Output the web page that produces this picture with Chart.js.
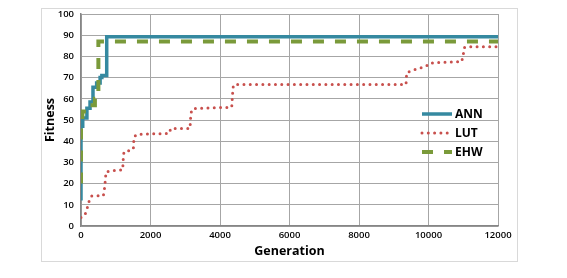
<!DOCTYPE html>
<html>
<head>
<meta charset="utf-8">
<script src="https://cdn.jsdelivr.net/npm/chart.js@4"></script>
<style>
body { margin: 0; background: #fff; }
</style>
</head>
<body>
<canvas id="chart" width="567" height="278"></canvas>
<script>
// series (generation, fitness)
var annGen = [0, 50, 170, 260, 345, 450, 550, 600, 740, 835, 12000];
var annFit = [12, 47, 51, 55.5, 58.5, 65.5, 67.5, 70, 71, 89.3, 89.3];

var ehwGen = [0, 40, 170, 400, 500, 720, 12000];
var ehwFit = [20, 47, 54, 57, 60, 87, 87];

var lutGen = [0,115,163,211,240,307,643,671,691,720,883,1027,1200,1218,1237,1362,1506,1525,1602,2542,2580,3137,3156,3185,3329,4337,4360,4385,4576,9353,9372,9516,9660,9804,9948,10025,10140,10955,11004,11022,11146,12000];
var lutFit = [4,5.2,7.9,9.9,12.3,14.2,14.3,17,20,25.6,26,26.4,26.4,32.4,35,35.5,36.3,42,43.2,43.7,46,46,51.6,55,55.5,56,62,66.5,66.8,66.8,72.3,73.3,74,74.7,75.6,76.7,77,77.5,81.1,84.1,84.6,84.6];

var seriesNames = ["ANN", "LUT", "EHW"];
var xTicks = [0, 2000, 4000, 6000, 8000, 10000, 12000];
var yTicks = [0, 10, 20, 30, 40, 50, 60, 70, 80, 90, 100];

function pts(gx, fy) {
	return gx.map(function (g, i) { return {x: g, y: fy[i]}; });
}

var fontFam = "'Open Sans', 'Liberation Sans', sans-serif";

var frame = {
	id: "frame",
	beforeDraw: function (chart) {
		var c = chart.ctx;
		c.save();
		c.fillStyle = "#fff";
		c.fillRect(0, 0, chart.width, chart.height);
		c.strokeStyle = "#d9d9d9";
		c.lineWidth = 1;
		c.strokeRect(41.5, 8.5, 476, 253);
		c.restore();
	}
};

var legendBox = {
	id: "legendBox",
	afterDatasetsDraw: function (chart) {
		var c = chart.ctx;
		var rows = [114, 133, 152];
		c.save();
		chart.data.datasets.forEach(function (ds, i) {
			var y = rows[i];
			c.strokeStyle = ds.borderColor;
			c.lineWidth = ds.borderWidth;
			c.lineCap = ds.borderCapStyle || "butt";
			c.setLineDash(ds.borderDash || []);
			c.beginPath();
			c.moveTo(422, y);
			c.lineTo(452, y);
			c.stroke();
			c.setLineDash([]);
			c.fillStyle = "#000";
			c.font = "bold 12px " + fontFam;
			c.textBaseline = "middle";
			c.textAlign = "left";
			c.fillText(ds.label, 455, y + 1);
		});
		c.restore();
	}
};

new Chart(document.getElementById("chart").getContext("2d"), {
	type: "line",
	data: {
		datasets: [
			{
				label: seriesNames[0],
				data: pts(annGen, annFit),
				stepped: "after",
				borderColor: "#3589a0",
				borderWidth: 3.5,
				pointRadius: 0,
				order: 1,
			},
			{
				label: seriesNames[1],
				data: pts(lutGen, lutFit),
				borderColor: "#c8504d",
				borderWidth: 3,
				borderDash: [0, 6.3],
				borderCapStyle: "round",
				pointRadius: 0,
				order: 2,
			},
			{
				label: seriesNames[2],
				data: pts(ehwGen, ehwFit),
				stepped: "after",
				borderColor: "#7a9a3a",
				borderWidth: 4,
				borderDash: [11, 11],
				pointRadius: 0,
				order: 0,
			},
		],
	},
	options: {
		responsive: false,
		animation: false,
		layout: { padding: { left: 41, top: 14, right: 69, bottom: 17 } },
		plugins: {
			legend: { display: false },
			tooltip: { enabled: false },
		},
		scales: {
			x: {
				type: "linear",
				min: 0,
				max: 12000,
				afterBuildTicks: function (s) { s.ticks = xTicks.map(function (v) { return {value: v}; }); },
				afterFit: function (s) { s.height = 35; },
				ticks: {
					color: "#000",
					font: { family: fontFam, size: 9.5, weight: "600" },
					padding: 4,
					maxRotation: 0,
					callback: function (v) { return String(v); },
				},
				grid: { color: "#a6a6a6", lineWidth: 1, drawTicks: false },
				border: { color: "#868686", width: 1.5 },
				title: {
					display: true,
					text: "Generation",
					color: "#000",
					font: { family: fontFam, size: 12.5, weight: "bold" },
					padding: { top: 0, bottom: 2 },
				},
			},
			y: {
				min: 0,
				max: 100,
				afterBuildTicks: function (s) { s.ticks = yTicks.map(function (v) { return {value: v}; }); },
				afterFit: function (s) { s.width = 40; },
				ticks: {
					color: "#000",
					font: { family: fontFam, size: 9.5, weight: "600" },
					padding: 7,
				},
				grid: { color: "#a6a6a6", lineWidth: 1, drawTicks: false },
				border: { color: "#868686", width: 1.5 },
				title: {
					display: true,
					text: "Fitness",
					color: "#000",
					font: { family: fontFam, size: 12.5, weight: "bold" },
					padding: { top: 2, bottom: 0 },
				},
			},
		},
	},
	plugins: [frame, legendBox],
});
</script>
</body>
</html>
